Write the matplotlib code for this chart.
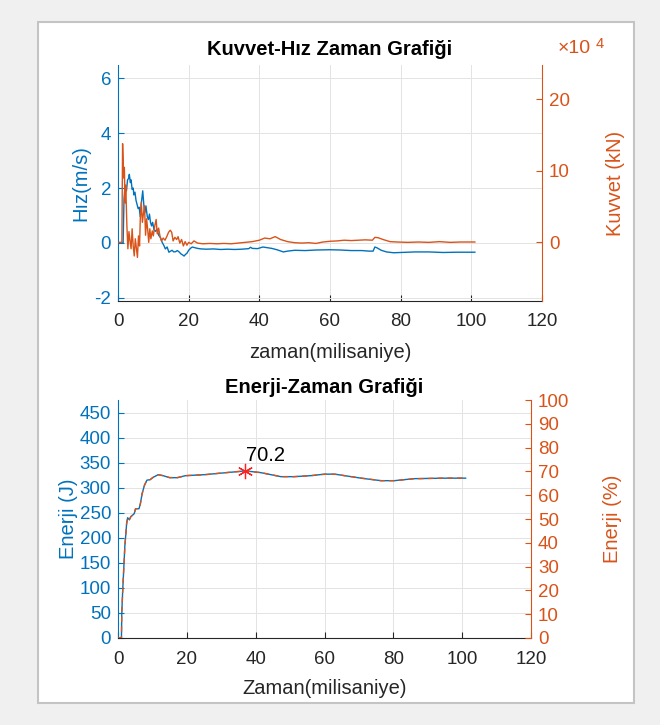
import matplotlib
matplotlib.use("Agg")
import matplotlib.pyplot as plt
from matplotlib.patches import Rectangle

# Top plot: velocity (m/s) and force (x1e4 kN) vs time (ms)
t_hiz = [0, 1.45, 1.7, 2.0, 2.4, 2.7, 3.0, 3.2, 3.5, 3.7, 4.0, 4.3, 4.5, 4.8, 5.1,
         5.4, 5.7, 6.0, 6.3, 6.6, 7.0, 7.3, 7.6, 7.9, 8.3, 8.6, 8.9, 9.2, 9.5, 9.8,
         10.2, 10.6, 11.0, 11.5, 12.0, 12.5, 13.0, 13.4, 13.9, 14.4, 14.9, 15.3,
         15.8, 16.3, 16.8, 17.3, 17.8, 18.3, 18.7, 19.1, 19.5, 20.0, 20.5, 21.0,
         21.6, 22.5, 23.5, 25, 27, 29, 31, 33, 35, 37, 37.5, 38, 39.5, 41, 42,
         43.5, 45, 46.8, 48, 50, 53, 56, 60, 63, 66, 69, 71, 72.2, 72.7, 73.3,
         74.5, 76, 78, 80, 84, 88, 92, 96, 101]
hiz = [0, 0, 1.6, 2.1, 1.9, 2.3, 2.35, 2.5, 2.2, 2.3, 1.95, 2.0, 1.75, 1.85, 1.55,
       1.4, 1.25, 1.3, 0.95, 1.45, 1.9, 1.4, 1.1, 1.35, 0.95, 0.85, 1.05, 0.75,
       0.62, 0.75, 0.48, 0.42, 0.5, 0.28, 0.2, 0.02, -0.1, -0.22, -0.15, -0.34,
       -0.3, -0.27, -0.33, -0.32, -0.28, -0.33, -0.4, -0.44, -0.48, -0.42, -0.38,
       -0.27, -0.2, -0.15, -0.17, -0.2, -0.22, -0.23, -0.22, -0.24, -0.23, -0.24,
       -0.23, -0.21, -0.16, -0.2, -0.21, -0.15, -0.17, -0.2, -0.25, -0.33, -0.3,
       -0.27, -0.28, -0.26, -0.25, -0.26, -0.28, -0.28, -0.3, -0.3, -0.15, -0.18,
       -0.27, -0.33, -0.36, -0.35, -0.33, -0.33, -0.35, -0.34, -0.34]

t_kuvvet = [0, 1.1, 1.3, 1.6, 1.8, 2.0, 2.2, 2.5, 2.8, 3.1, 3.4, 3.7, 4.0, 4.3,
            4.6, 4.9, 5.2, 5.5, 5.8, 6.1, 6.3, 6.6, 6.9, 7.2, 7.5, 7.8, 8.1, 8.4,
            8.7, 9.0, 9.3, 9.7, 10.0, 10.4, 10.8, 11.1, 11.5, 11.9, 12.3, 12.8,
            13.3, 13.8, 14.3, 14.8, 15.2, 15.6, 16.1, 16.6, 17.0, 17.5, 18.0, 18.5,
            19.0, 19.5, 20.0, 20.7, 21.5, 22.5, 24, 26, 28, 30, 32, 34, 36, 38, 40,
            41.5, 43, 44.5, 46, 48, 50, 52, 54, 56, 58, 60, 62, 64, 66, 68, 70, 72,
            72.7, 73.6, 75, 77, 79, 82, 85, 88, 91, 94, 97, 101]
kuvvet = [0, 0, 13.8, 9.0, 10.5, 5.5, 8.0, 2.5, -0.9, 1.5, 0.2, -0.9, 1.9, -0.5,
          -1.9, 0.5, -0.8, -2.1, 0.9, -0.5, 3.2, 5.6, 2.8, 4.0, 5.1, 1.0, 3.3, 1.8,
          0.0, 1.9, 0.5, 1.6, 0.9, 2.3, 3.2, 1.2, 2.0, 0.8, 0.2, 0.6, 0.3, 0.8, 1.4,
          1.7, 1.4, 0.2, 0.7, 0.4, 0.8, -0.1, 0.4, -0.5, 0.1, -0.4, 0.0, -0.2, 0.2,
          -0.1, -0.2, -0.15, -0.2, -0.15, -0.2, -0.1, 0.0, 0.1, 0.3, 0.6, 0.5, 0.8,
          0.4, 0.1, -0.05, -0.1, -0.05, -0.15, 0.05, 0.15, 0.2, 0.3, 0.25, 0.3, 0.35,
          0.3, 0.7, 0.65, 0.4, 0.1, 0.05, 0.0, 0.05, 0.0, 0.1, 0.0, 0.05, 0.05]

# Bottom plot: energy (J) and energy (%) vs time (ms)
t_enerji = [0, 1.0, 1.1, 1.4, 1.7, 2.0, 2.3, 2.5, 2.8, 3.3, 3.7, 4.2, 4.7, 5.1,
            6.1, 6.5, 7.0, 7.7, 8.4, 9.3, 10.3, 11.7, 13.1, 15.0, 17.3, 19.6, 25.2,
            29.9, 37, 41.5, 47.3, 51.2, 56, 60, 63, 70.6, 76.4, 80.3, 86, 95, 101]
enerji_j = [0, 0, 50, 100, 142, 185, 209, 228, 240, 236, 242, 245, 248, 258, 258,
            268, 288, 305, 315, 316, 321, 326, 324, 320, 320, 324, 326, 329, 333.5,
            330, 322, 322, 324, 327, 327, 319, 314, 314, 318, 319, 319]
enerji_yuzde = [0, 0, 10.5, 21.1, 29.9, 38.9, 44.0, 48.0, 50.5, 49.7, 50.9, 51.6,
                52.2, 54.3, 54.3, 56.4, 60.6, 64.2, 66.3, 66.5, 67.6, 68.6, 68.2,
                67.4, 67.4, 68.2, 68.6, 69.3, 70.2, 69.5, 67.8, 67.8, 68.2, 68.8,
                68.8, 67.2, 66.1, 66.1, 66.9, 67.2, 67.2]
t_tepe = 37
tepe_yuzde = 70.2

BLUE = '#0072BD'
ORANGE = '#D95319'
DARK = '#262626'
GRID = '#e3e3e3'

plt.rcParams['font.family'] = ['Liberation Sans', 'DejaVu Sans']
plt.rcParams['axes.unicode_minus'] = False

fig = plt.figure(figsize=(6.6, 7.25), dpi=100, facecolor='#f0f0f0')
W, H = 660.0, 725.0
fig.patches.append(Rectangle((38 / W, 1 - 703 / H), 596 / W, 681 / H,
                             transform=fig.transFigure, facecolor='white',
                             edgecolor='#c4c4c4', linewidth=1.5, zorder=-10))


def style(ax, ax2, lcolor, rcolor):
    ax.set_facecolor('none')
    ax.grid(True, color=GRID, linewidth=0.7)
    ax.set_axisbelow(True)
    for a in (ax, ax2):
        a.spines['top'].set_visible(False)
    ax.spines['right'].set_visible(False)
    ax.spines['left'].set_color(lcolor)
    ax.spines['bottom'].set_color(DARK)
    ax2.spines['left'].set_visible(False)
    ax2.spines['bottom'].set_visible(False)
    ax2.spines['right'].set_color(rcolor)
    ax.tick_params(axis='y', colors=lcolor, direction='in', length=4, labelsize=13.5, pad=5)
    ax.tick_params(axis='x', colors=DARK, direction='in', length=4, labelsize=13.5, pad=9)
    ax2.tick_params(axis='y', colors=rcolor, direction='in', length=4, labelsize=13.5, pad=5)


# ---- top: Kuvvet-Hiz
ax1 = fig.add_axes([118 / W, 1 - 301 / H, 424 / W, 236 / H])
ax1b = ax1.twinx()
ax1.plot(t_hiz, hiz, color=BLUE, lw=1.0)
ax1b.plot(t_kuvvet, kuvvet, color=ORANGE, lw=1.0)
ax1.set_xlim(0, 120)
ax1.set_xticks(range(0, 121, 20))
ax1.set_ylim(-2.12, 6.49)
ax1.set_yticks([-2, 0, 2, 4, 6])
ax1b.set_ylim(-8.2, 24.8)
ax1b.set_yticks([0, 10, 20])
style(ax1, ax1b, BLUE, ORANGE)
ax1.set_title('Kuvvet-Hız Zaman Grafiği', fontsize=14.5, fontweight='bold', pad=7)
ax1.set_xlabel('zaman(milisaniye)', fontsize=14.5, color=DARK, labelpad=9)
ax1.set_ylabel('Hız(m/s)', fontsize=14.5, color=BLUE, labelpad=3)
ax1b.set_ylabel('Kuvvet (kN)', fontsize=14.5, color=ORANGE, labelpad=26)
fig.text(558 / W, 1 - 53 / H, '×10', fontsize=14, color=ORANGE)
fig.text(596 / W, 1 - 48 / H, '4', fontsize=10.5, color=ORANGE)

# ---- bottom: Enerji-Zaman
ax2 = fig.add_axes([118 / W, 1 - 638 / H, 413 / W, 238 / H])
ax2b = ax2.twinx()
ax2.plot(t_enerji, enerji_j, color=BLUE, lw=1.0)
ax2b.plot(t_enerji, enerji_yuzde, color=ORANGE, lw=1.0, linestyle=(0, (4, 3)))
ax2b.plot([t_tepe], [tepe_yuzde], linestyle='none', marker=(6, 2, 0),
          markersize=11, color='#ff2020', markeredgewidth=0.9)
ax2b.text(t_tepe + 0.3, tepe_yuzde + 2.6, f'{tepe_yuzde}', fontsize=14.5,
          color='black', ha='left', va='bottom')
ax2.set_xlim(0, 120)
ax2.set_xticks(range(0, 121, 20))
ax2.set_ylim(0, 475)
ax2.set_yticks(range(0, 451, 50))
ax2b.set_ylim(0, 100)
ax2b.set_yticks(range(0, 101, 10))
style(ax2, ax2b, BLUE, ORANGE)
ax2.set_title('Enerji-Zaman Grafiği', fontsize=14.5, fontweight='bold', pad=5)
ax2.set_xlabel('Zaman(milisaniye)', fontsize=14.5, color=DARK, labelpad=8)
ax2.set_ylabel('Enerji (J)', fontsize=14.5, color=BLUE, labelpad=1)
ax2b.set_ylabel('Enerji (%)', fontsize=14.5, color=ORANGE, labelpad=24)

fig.savefig('out.png', dpi=100, facecolor=fig.get_facecolor())
